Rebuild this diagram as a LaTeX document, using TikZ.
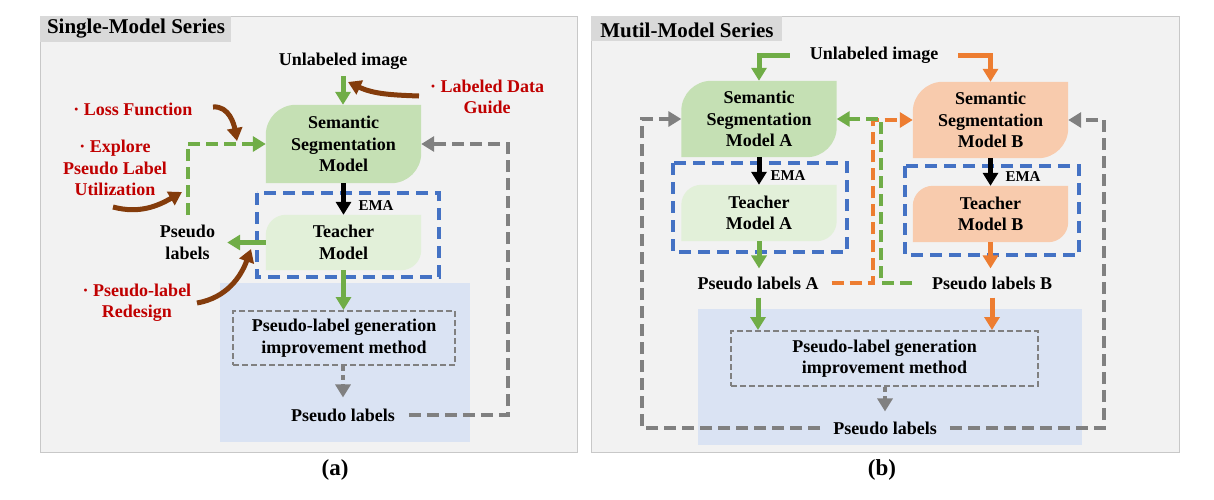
\documentclass[tikz,border=0pt]{standalone}
\usepackage{fontspec}
\setmainfont{Liberation Serif}
\usetikzlibrary{arrows.meta}
\definecolor{panelbg}{HTML}{F2F2F2}
\definecolor{panelline}{HTML}{C8C8C8}
\definecolor{titlebg}{HTML}{D9D9D9}
\definecolor{lgreen}{HTML}{C5E0B4}
\definecolor{llgreen}{HTML}{E2F0D9}
\definecolor{lorange}{HTML}{F8CBAD}
\definecolor{lblue}{HTML}{DAE3F3}
\definecolor{cgreen}{HTML}{70AD47}
\definecolor{corange}{HTML}{ED7D31}
\definecolor{cblue}{HTML}{4472C4}
\definecolor{cgray}{HTML}{808080}
\definecolor{cbrown}{HTML}{843C0C}
\definecolor{cred}{HTML}{C00000}
\pgfdeclarelayer{bg}\pgfdeclarelayer{fills}
\pgfsetlayers{bg,fills,main}
\newcommand\modelfill[3]{%
  \begin{pgfonlayer}{fills}
  \fill[#2] (#1.south west) -- ([yshift=-#3pt]#1.north west) arc[start angle=180,end angle=90,radius=#3pt] -- (#1.north east) -- ([yshift=#3pt]#1.south east) arc[start angle=0,end angle=-90,radius=#3pt] -- cycle;
  \end{pgfonlayer}}
\begin{document}
\begin{tikzpicture}[x=1pt,y=1pt,
  txt/.style={font=\fontsize{18}{21.5}\selectfont\bfseries, align=center, inner sep=0pt},
  redtxt/.style={txt, text=cred},
  ematxt/.style={font=\fontsize{15}{18}\selectfont\bfseries, inner sep=0pt},
  titletxt/.style={font=\fontsize{21}{24}\selectfont\bfseries, inner sep=0pt},
  captxt/.style={font=\fontsize{23}{26}\selectfont\bfseries, inner sep=0pt},
  box/.style={txt, minimum width=155pt},
  tip/.style={-{Triangle[width=15pt,length=13pt]}},
  solidarrow/.style={tip, line width=5pt},
  dashline/.style={tip, line width=4pt, dash pattern=on 12pt off 6pt},
  bluebox/.style={draw=cblue, line width=4pt, dash pattern=on 12pt off 7pt},
  genbox/.style={txt, draw=cgray, line width=2pt, dash pattern=on 6pt off 3pt},
  dotarrow/.style={tip, draw=cgray, line width=4pt, dash pattern=on 5pt off 4pt},
  brownarrow/.style={-{Triangle[width=15pt,length=13pt]}, draw=cbrown, line width=5pt},
]
\useasboundingbox (0,0) rectangle (1214,-499);
% ---------- backgrounds
\begin{pgfonlayer}{bg}
\fill[white] (0,0) rectangle (1214,-499);
\filldraw[fill=panelbg, draw=panelline, line width=1pt] (40,-16) rectangle (577,-452);
\fill[titlebg] (40,-16) rectangle (231,-42);
\fill[lblue] (220,-283) rectangle (470,-442);
\filldraw[fill=panelbg, draw=panelline, line width=1pt] (591,-16) rectangle (1179,-452);
\fill[titlebg] (591,-16) rectangle (782,-41);
\fill[lblue] (698,-309) rectangle (1082,-445);
\end{pgfonlayer}

% ================= (a) =================
\node[titletxt] (ttl1) at (136,-29) {Single-Model Series};
\node[txt, inner ysep=7pt] (ui1) at (343,-61) {Unlabeled image};
\node[box, minimum height=78pt] (m) at (343.5,-144) {Semantic\\Segmentation\\Model};
\modelfill{m}{lgreen}{30}
\node[box, minimum height=55pt] (t) at (343.5,-242.5) {Teacher\\Model};
\modelfill{t}{llgreen}{20}
\node[ematxt] (ema1) at (376,-206) {EMA};
\draw[bluebox] (257,-193) rectangle (439,-277);
\node[txt, inner xsep=12pt, inner ysep=10pt] (pl) at (187.5,-242.5) {Pseudo\\labels};
\node[genbox, minimum width=222pt, minimum height=54pt] (g) at (344,-338) {Pseudo-label generation\\improvement method};
\node[txt, inner xsep=14pt, inner ysep=11pt] (p) at (343,-415) {Pseudo labels};
\node[redtxt] (ldg) at (487,-97) {· Labeled Data\\Guide};
\node[redtxt] (lf) at (133,-109) {· Loss Function};
\node[redtxt] (ex) at (115,-168) {· Explore\\Pseudo Label\\Utilization};
\node[redtxt] (pr) at (137,-302.5) {· Pseudo-label\\Redesign};
\node[captxt] (capa) at (335,-470) {(a)};

\draw[solidarrow, cgreen] (ui1.south) -- (ui1.south |- m.north);
\draw[solidarrow, black] (m.south) -- (m.south |- t.north);
\draw[solidarrow, cgreen] (t.west) -- (pl.east);
\draw[dashline, cgreen] (pl.north) |- (m.west);
\draw[solidarrow, cgreen] (t.south) -- (t.south |- g.north);
\draw[dotarrow] (g.south -| p.north) -- (p.north);
\coordinate (ra) at (508,-144);
\draw[dashline, cgray] (p.east) -| (ra) -- (m.east);
% brown hints
\coordinate (b1s) at (419,-96);  \coordinate (b1e) at (348,-82);
\coordinate (b2s) at (213,-107); \coordinate (b2e) at (237,-141);
\coordinate (b3s) at (113,-207); \coordinate (b3e) at (182,-192);
\coordinate (b4s) at (197,-303); \coordinate (b4e) at (251,-249);
\draw[brownarrow] (b1s) to[out=178,in=-25] (b1e);
\draw[brownarrow] (b2s) to[out=5,in=100] (b2e);
\draw[brownarrow] (b3s) to[out=-15,in=210] (b3e);
\draw[brownarrow] (b4s) to[out=10,in=250] (b4e);

% ================= (b) =================
\node[titletxt] (ttl2) at (687,-30) {Mutil-Model Series};
\node[txt, inner xsep=20pt] (ui2) at (874,-55) {Unlabeled image};
\node[box, minimum height=76pt] (ma) at (759,-119) {Semantic\\Segmentation\\Model A};
\modelfill{ma}{lgreen}{30}
\node[box, minimum height=76pt] (mb) at (990.5,-120) {Semantic\\Segmentation\\Model B};
\modelfill{mb}{lorange}{30}
\node[box, minimum height=56pt] (ta) at (759,-213) {Teacher\\Model A};
\modelfill{ta}{llgreen}{20}
\node[box, minimum height=56pt] (tb) at (990.5,-214) {Teacher\\Model B};
\modelfill{tb}{lorange}{20}
\node[ematxt] (ema2) at (788,-176) {EMA};
\node[ematxt] (ema3) at (1023,-177) {EMA};
\draw[bluebox] (673,-163) rectangle (847,-252);
\draw[bluebox] (905,-166) rectangle (1079,-255);
\node[txt, inner xsep=13pt, inner ysep=8pt] (pla) at (758,-283) {Pseudo labels A};
\node[txt, inner xsep=20pt, inner ysep=8pt] (plb) at (992,-283) {Pseudo labels B};
\node[genbox, minimum width=307pt, minimum height=55pt] (g2) at (884.5,-358.5) {Pseudo-label generation\\improvement method};
\node[txt, inner xsep=13pt, inner ysep=10pt] (p2) at (885,-428) {Pseudo labels};
\node[captxt] (capb) at (882,-470) {(b)};

\draw[solidarrow, cgreen] (ui2.west) -| (ma.north);
\draw[solidarrow, corange] (ui2.east) -| (mb.north);
\draw[solidarrow, black] (ma.south) -- (ma.south |- ta.north);
\draw[solidarrow, black] (mb.south) -- (mb.south |- tb.north);
\draw[solidarrow, cgreen] (ta.south) -- (ta.south |- pla.north);
\draw[solidarrow, corange] (tb.south) -- (tb.south |- plb.north);
\draw[solidarrow, cgreen] (pla.south) -- (pla.south |- g2.north);
\draw[solidarrow, corange] (plb.south) -- (plb.south |- g2.north);
\draw[dotarrow] (g2.south -| p2.north) -- (p2.north);
\coordinate (oc) at (873,-120);
\coordinate (gc) at (880.5,-119);
\draw[dashline, corange] (pla.east) -| (oc) -- (mb.west);
\draw[dashline, cgreen] (plb.west) -| (gc) -- (ma.east);
\coordinate (cl) at (642,-119);
\coordinate (cr) at (1104,-120);
\draw[dashline, cgray] (p2.west) -| (cl) -- (ma.west);
\draw[dashline, cgray] (p2.east) -| (cr) -- (mb.east);
\end{tikzpicture}
\end{document}
